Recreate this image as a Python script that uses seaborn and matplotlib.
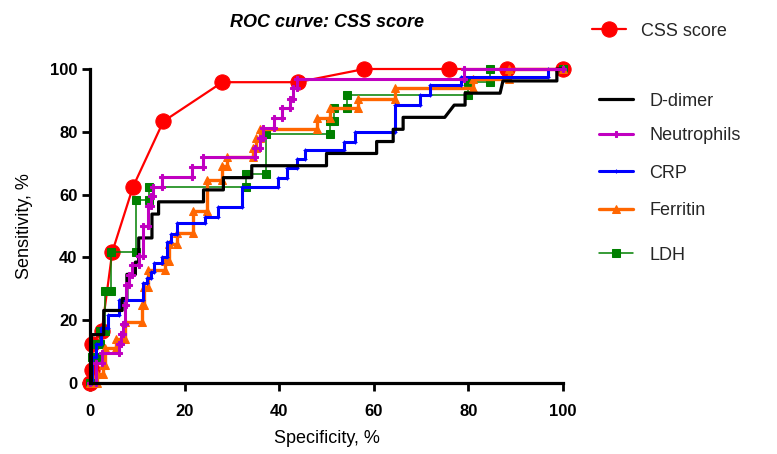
import matplotlib
matplotlib.use("Agg")
import matplotlib.pyplot as plt
import seaborn as sns
import pandas as pd

# ---------------- data ----------------
css_x = [0, 0.5, 0.5, 2.5, 4.7, 9.1, 15.5, 28.0, 43.9, 58.0, 76.0, 88.2, 100]
css_y = [0, 4.2, 12.5, 16.7, 41.7, 62.5, 83.3, 95.8, 95.8, 100, 100, 100, 100]

ddimer_x = [0, 0.3, 0.3, 2.9, 2.9, 6.8, 6.8, 7.8, 7.8, 9.6, 9.6, 10.3, 10.3, 13.1,
            13.1, 14.5, 14.5, 24.0, 24.0, 28.2, 28.2, 34.2, 34.2, 50.0, 50.0, 60.6,
            60.6, 64.1, 64.1, 66.2, 66.2, 75.0, 77.0, 79.3, 79.3, 86.7, 87.3, 98.7,
            98.7, 100]
ddimer_y = [0, 0, 15.4, 15.4, 23.1, 23.1, 26.9, 26.9, 34.6, 34.6, 38.5, 38.5, 46.2, 46.2,
            53.8, 53.8, 57.7, 57.7, 61.5, 61.5, 65.4, 65.4, 69.2, 69.2, 73.1, 73.1,
            76.9, 76.9, 80.8, 80.8, 84.6, 84.6, 88.5, 88.5, 92.3, 92.3, 96.2, 96.2,
            100, 100]

neut_x = [0, 1.2, 1.2, 2.5, 2.5, 6.1, 6.1, 6.6, 6.6, 6.9, 6.9, 7.3, 7.3, 7.6, 7.6,
          8.2, 8.2, 8.9, 8.9, 10.3, 10.3, 11.3, 11.3, 12.2, 12.2, 12.9, 12.9, 13.3,
          13.3, 15.2, 15.2, 21.5, 21.5, 23.9, 23.9, 34.9, 34.9, 35.9, 35.9, 36.5,
          36.5, 38.8, 38.8, 40.5, 40.5, 42.3, 42.3, 43.0, 43.0, 43.7, 43.7, 79.0,
          79.0, 100]
neut_y = [0, 0, 6.3, 6.3, 9.4, 9.4, 12.5, 12.5, 15.6, 15.6, 18.8, 18.8, 25.0, 25.0, 31.3,
          31.3, 34.4, 34.4, 37.5, 37.5, 40.6, 40.6, 50.0, 50.0, 56.3, 56.3, 59.4, 59.4,
          62.5, 62.5, 65.6, 65.6, 68.8, 68.8, 71.9, 71.9, 75.0, 75.0, 78.1, 78.1,
          81.3, 81.3, 84.4, 84.4, 87.5, 87.5, 90.6, 90.6, 93.8, 93.8, 96.9, 96.9,
          100, 100]

crp_x = [0, 0.4, 0.4, 1.3, 1.3, 2.3, 2.3, 3.8, 3.8, 6.1, 6.1, 11.3, 11.3, 12.1, 12.1,
         12.8, 12.8, 13.5, 13.5, 15.2, 15.2, 16.2, 16.2, 17.2, 17.2, 18.3, 18.3, 24.3,
         24.3, 27.1, 27.1, 32.1, 32.1, 39.8, 39.8, 41.6, 41.6, 43.7, 43.7, 45.5, 45.5,
         53.6, 53.6, 56.0, 56.0, 64.5, 64.5, 69.8, 69.8, 71.9, 71.9, 78.4, 78.4, 96.8,
         96.8, 100]
crp_y = [0, 0, 8.3, 8.3, 12.5, 12.5, 17.5, 17.5, 21.7, 21.7, 26.4, 26.4, 31.7, 31.7, 33.5,
         33.5, 35.4, 35.4, 38.1, 38.1, 40.2, 40.2, 45.0, 45.0, 47.6, 47.6, 50.8, 50.8,
         53.0, 53.0, 56.1, 56.1, 62.3, 62.3, 65.2, 65.2, 68.4, 68.4, 71.2, 71.2, 74.2,
         74.2, 76.8, 76.8, 80.0, 80.0, 88.5, 88.5, 91.7, 91.7, 94.9, 94.9, 97.5, 97.5,
         100, 100]

ferr_x = [0, 1.5, 1.5, 2.8, 2.8, 3.2, 3.2, 5.5, 5.5, 7.4, 7.4, 10.9, 10.9, 11.5, 11.5,
          12.2, 12.2, 15.9, 15.9, 16.6, 16.6, 18.3, 18.3, 21.7, 21.7, 24.7, 24.7, 28.0,
          28.0, 29.0, 29.0, 34.5, 34.5, 35.2, 35.2, 36.0, 36.0, 47.9, 47.9, 50.7, 50.7,
          56.7, 56.7, 64.5, 64.5, 81.0, 81.0, 88.5, 88.5, 100]
ferr_y = [0, 0, 2.8, 2.8, 5.6, 5.6, 11.1, 11.1, 13.9, 13.9, 19.4, 19.4, 25.0, 25.0, 30.6,
          30.6, 36.1, 36.1, 38.9, 38.9, 44.4, 44.4, 47.9, 47.9, 54.8, 54.8, 64.6, 64.6,
          69.0, 69.0, 72.0, 72.0, 75.0, 75.0, 78.0, 78.0, 81.0, 81.0, 84.3, 84.3, 87.5,
          87.5, 90.6, 90.6, 93.8, 93.8, 96.9, 96.9, 100, 100]

ldh_x = [0, 0.4, 0.4, 1.2, 1.2, 2.1, 2.1, 3.2, 3.2, 4.5, 4.5, 9.7, 9.7, 12.4, 12.4,
         33.0, 33.0, 37.2, 37.2, 50.8, 50.8, 51.5, 51.5, 54.3, 54.3, 80.0, 80.0, 84.5,
         84.5, 100]
ldh_y = [0, 0, 8.3, 8.3, 12.5, 12.5, 16.7, 16.7, 29.2, 29.2, 41.7, 41.7, 58.3, 58.3, 62.5,
         62.5, 66.7, 66.7, 79.2, 79.2, 83.3, 83.3, 87.5, 87.5, 91.7, 91.7, 95.8, 95.8,
         100, 100]

axis_ticks = [0, 20, 40, 60, 80, 100]
title_text = "ROC curve: CSS score"
xlabel_text = "Specificity, %"
ylabel_text = "Sensitivity, %"

# ---------------- style ----------------
sns.set_theme(style="ticks")
plt.rcParams["font.family"] = ["Liberation Sans", "DejaVu Sans"]

fig = plt.figure(figsize=(7.77, 4.54), dpi=100)
ax = fig.add_axes([90 / 777, 71 / 454, 473 / 777, 314 / 454])

series = [
    ("CSS score", css_x, css_y,
     dict(color="#FF0000", lw=1.6, marker="o", ms=11, markeredgecolor="#FF0000", zorder=3)),
    ("LDH", ldh_x, ldh_y,
     dict(color="#008000", lw=1.1, marker="s", ms=5.5, markeredgecolor="#008000", zorder=4)),
    ("Ferritin", ferr_x, ferr_y,
     dict(color="#FF6600", lw=2.4, marker="^", ms=6, markeredgecolor="#FF6600", zorder=5)),
    ("CRP", crp_x, crp_y,
     dict(color="#0000FF", lw=2.2, marker="+", ms=3, markeredgecolor="#0000FF",
          markeredgewidth=0.8, zorder=6)),
    ("D-dimer", ddimer_x, ddimer_y,
     dict(color="#000000", lw=2.3, zorder=7)),
    ("Neutrophils", neut_x, neut_y,
     dict(color="#C000C0", lw=2.2, marker="P", ms=5, markeredgecolor="#C000C0", zorder=8)),
]

for label, xs, ys, st in series:
    df = pd.DataFrame({"x": xs, "y": ys})
    sns.lineplot(data=df, x="x", y="y", sort=False, estimator=None, ax=ax,
                 label=label, clip_on=False, **st)

handles, labels = ax.get_legend_handles_labels()
if ax.get_legend() is not None:
    ax.get_legend().remove()
hmap = dict(zip(labels, handles))

# legend entries placed like the Prism layout
legend_order = ["CSS score", "D-dimer", "Neutrophils", "CRP", "Ferritin", "LDH"]
legend_rows_px = [31, 101, 136, 173, 211, 255]
legend_left_px = [592, 599, 599, 599, 599, 599]
for name, ypx, xpx in zip(legend_order, legend_rows_px, legend_left_px):
    fig.legend(handles=[hmap[name]], labels=[name], loc="center left",
               bbox_to_anchor=(xpx / 777, 1 - ypx / 454), frameon=False,
               fontsize=13, handlelength=1.9, handletextpad=0.9 if name != "CSS score" else 0.8,
               borderpad=0, borderaxespad=0, numpoints=1)

ax.set_xlim(0, 100)
ax.set_ylim(0, 100)
ax.set_xticks(axis_ticks)
ax.set_yticks(axis_ticks)
ax.set_xticklabels([str(t) for t in axis_ticks], fontweight="bold", fontsize=12)
ax.set_yticklabels([str(t) for t in axis_ticks], fontweight="bold", fontsize=12)
ax.tick_params(axis="both", width=2, length=6, color="black", labelcolor="black")
ax.tick_params(axis="x", pad=9)
ax.tick_params(axis="y", pad=3)

sns.despine(ax=ax)
for sp in ["left", "bottom"]:
    ax.spines[sp].set_linewidth(2.3)
    ax.spines[sp].set_color("black")
    ax.spines[sp].set_zorder(10)

ax.set_xlabel(xlabel_text, fontsize=13, labelpad=8, color="black")
ax.set_ylabel(ylabel_text, fontsize=13, labelpad=12, color="black")
ax.set_title(title_text, fontsize=13, fontweight="bold", style="italic", pad=30, color="black")
ax.grid(False)
ax.set_facecolor("white")
fig.patch.set_facecolor("white")

fig.savefig("out.png", dpi=100, facecolor="white")
